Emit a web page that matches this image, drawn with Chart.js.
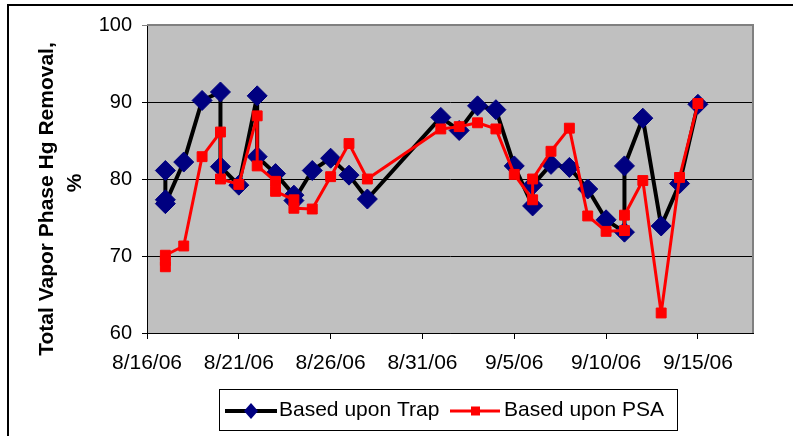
<!DOCTYPE html>
<html>
<head>
<meta charset="utf-8">
<script src="https://cdn.jsdelivr.net/npm/chart.js@4.4.0/dist/chart.umd.min.js"></script>
<style>
  html, body { margin: 0; padding: 0; background: #fff; }
  #wrap { width: 793px; height: 436px; }
</style>
</head>
<body>
<div id="wrap"><canvas id="grafico"></canvas></div>
<script>
// datos (fecha M/D de 2006, % de remocion)
const trapDates = ['8/17','8/17','8/17','8/18','8/19','8/20','8/20','8/21','8/22','8/22','8/23','8/24','8/24','8/25','8/26','8/27','8/28',
                   '9/1','9/2','9/3','9/4','9/5','9/6','9/6','9/7','9/8','9/9','9/10','9/11','9/11','9/12','9/13','9/14','9/15'];
const trapValues = [81.1, 77.3, 76.8, 82.2, 90.2, 91.3, 81.6, 79.2, 90.8, 82.9, 80.7, 77.9, 77.2, 81.1, 82.7, 80.5, 77.4,
                    88.0, 86.3, 89.5, 89.0, 81.7, 76.5, 79.2, 81.9, 81.5, 78.7, 74.7, 73.1, 81.7, 87.9, 73.9, 79.4, 89.7];

const psaDates = ['8/17','8/17','8/17','8/18','8/19','8/20','8/20','8/21','8/22','8/22','8/23','8/23','8/24','8/24','8/25','8/26','8/27','8/28',
                  '9/1','9/2','9/3','9/4','9/5','9/6','9/6','9/7','9/8','9/9','9/10','9/11','9/11','9/12','9/13','9/14','9/15'];
const psaValues = [69.4, 68.6, 70.1, 71.3, 82.9, 86.1, 80.0, 79.3, 88.2, 81.7, 79.7, 78.4, 77.3, 76.2, 76.1, 80.3, 84.6, 80.0,
                   86.5, 86.8, 87.3, 86.5, 80.6, 77.3, 80.0, 83.6, 86.6, 75.2, 73.2, 73.3, 75.3, 79.8, 62.6, 80.2, 89.8];

const xTickLabels = ['8/16/06','8/21/06','8/26/06','8/31/06','9/5/06','9/10/06','9/15/06'];
const yTitle = ['Total Vapor Phase Hg Removal,', '%'];
const seriesNames = ['Based upon Trap', 'Based upon PSA'];

const FONT = "'Liberation Sans', Arial, sans-serif";

// dias desde 8/16/06
function dayOf(s) {
    const p = s.split('/');
    return (Date.UTC(2006, +p[0] - 1, +p[1]) - Date.UTC(2006, 7, 16)) / 86400000;
}
function toPoints(dates, vals) {
    return dates.map((d, i) => ({ x: dayOf(d), y: vals[i] }));
}

const decor = {
    id: 'decor',
    beforeDraw(chart) {
        const c = chart.ctx, a = chart.chartArea;
        c.save();
        c.fillStyle = '#fff';
        c.fillRect(0, 0, chart.width, chart.height);
        c.fillStyle = '#C0C0C0';
        c.fillRect(a.left, a.top, a.right - a.left, a.bottom - a.top);
        c.restore();
    },
    beforeDatasetsDraw(chart) {
        const c = chart.ctx, a = chart.chartArea;
        c.save();
        c.strokeStyle = '#808080';
        c.lineWidth = 2;
        c.beginPath();
        c.moveTo(a.left, a.top);
        c.lineTo(a.right, a.top);
        c.lineTo(a.right, a.bottom);
        c.stroke();
        c.restore();
    },
    afterDraw(chart) {
        const c = chart.ctx;
        c.save();
        // marco exterior
        c.strokeStyle = '#000';
        c.lineWidth = 2;
        c.strokeRect(8, 5, 820, 460);

        // titulo eje y
        c.fillStyle = '#000';
        c.font = 'bold 21px ' + FONT;
        c.textAlign = 'center';
        c.textBaseline = 'alphabetic';
        c.translate(53, 199);
        c.rotate(-Math.PI / 2);
        c.fillText(yTitle[0], 0, 0);
        c.setTransform(1, 0, 0, 1, 0, 0);
        c.translate(81, 183);
        c.rotate(-Math.PI / 2);
        c.fillText(yTitle[1], 0, 0);
        c.setTransform(1, 0, 0, 1, 0, 0);

        // leyenda
        c.lineWidth = 1;
        c.strokeStyle = '#000';
        c.strokeRect(219.5, 389.5, 458, 41);
        const ly = 411;
        c.lineWidth = 4;
        c.beginPath(); c.moveTo(225, ly); c.lineTo(277, ly); c.stroke();
        c.fillStyle = '#000080';
        c.beginPath();
        c.moveTo(251, ly - 8); c.lineTo(258, ly); c.lineTo(251, ly + 8); c.lineTo(244, ly);
        c.closePath(); c.fill();
        c.strokeStyle = '#FF0000';
        c.lineWidth = 3;
        c.beginPath(); c.moveTo(450, ly); c.lineTo(500, ly); c.stroke();
        c.fillStyle = '#FF0000';
        c.fillRect(471, ly - 4.5, 9, 9);
        c.fillStyle = '#000';
        c.font = '21px ' + FONT;
        c.textAlign = 'left';
        c.fillText(seriesNames[0], 279, 416);
        c.fillText(seriesNames[1], 504, 416);
        c.restore();
    }
};

const ctx = document.getElementById('grafico').getContext('2d');
new Chart(ctx, {
    type: 'line',
    data: {
        datasets: [
            {
                label: seriesNames[0],
                data: toPoints(trapDates, trapValues),
                borderColor: '#000000',
                borderWidth: 4,
                borderJoinStyle: 'round',
                pointStyle: 'rectRot',
                pointRadius: 10,
                pointBackgroundColor: '#000080',
                pointBorderColor: '#000080',
                pointBorderWidth: 1,
                tension: 0,
                order: 2
            },
            {
                label: seriesNames[1],
                data: toPoints(psaDates, psaValues),
                borderColor: '#FF0000',
                borderWidth: 3,
                borderJoinStyle: 'round',
                pointStyle: 'rect',
                pointRadius: 7,
                pointBackgroundColor: '#FF0000',
                pointBorderColor: '#FF0000',
                pointBorderWidth: 1,
                tension: 0,
                order: 1
            }
        ]
    },
    options: {
        responsive: true,
        maintainAspectRatio: false,
        animation: false,
        events: [],
        layout: { padding: { top: 25, right: 40, left: 0, bottom: 0 } },
        plugins: {
            legend: { display: false },
            tooltip: { enabled: false }
        },
        scales: {
            x: {
                type: 'linear',
                min: 0,
                max: 33,
                afterBuildTicks: s => { s.ticks = xTickLabels.map((t, i) => ({ value: i * 5 })); },
                afterFit: s => { s.height = 103; },
                ticks: {
                    autoSkip: false,
                    maxRotation: 0,
                    padding: 12,
                    color: '#000',
                    font: { family: FONT, size: 21 },
                    callback: v => xTickLabels[Math.round(v / 5)]
                },
                grid: { drawOnChartArea: false, drawTicks: true, tickLength: 6, color: '#000' },
                border: { color: '#000', width: 1 }
            },
            y: {
                min: 60,
                max: 100,
                afterFit: s => { s.width = 147; },
                ticks: {
                    stepSize: 10,
                    padding: 10,
                    color: '#000',
                    font: { family: FONT, size: 20 }
                },
                grid: {
                    color: c => c.tick && c.tick.value === 100 ? '#808080' : '#000',
                    lineWidth: 1,
                    tickLength: 5
                },
                border: { color: '#000', width: 1 }
            }
        }
    },
    plugins: [decor]
});
</script>
</body>
</html>
